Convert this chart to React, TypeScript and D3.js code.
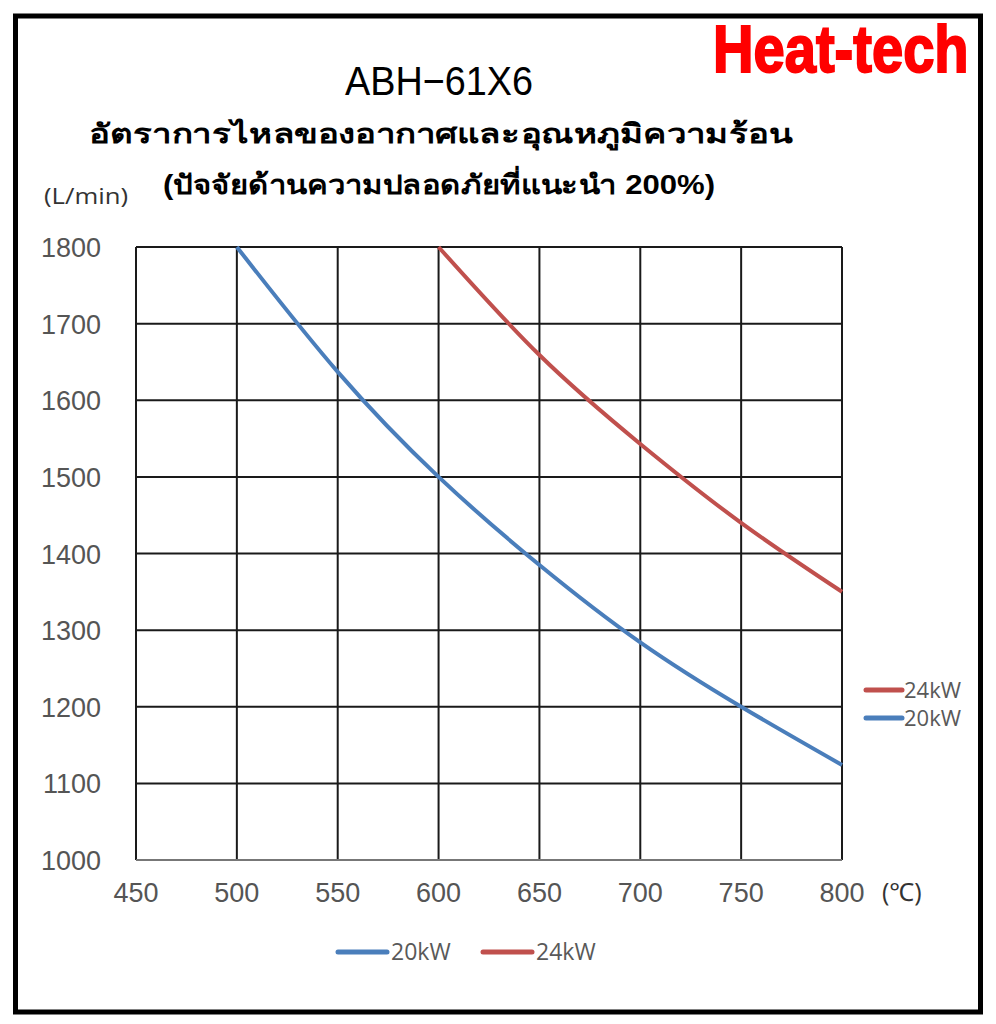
import React, { useEffect, useRef } from "react";
import * as d3 from "d3";

const width = 996;
const height = 1024;
const margin = { top: 247, right: 154, bottom: 164, left: 136 };

// x ticks (°C) and y ticks (L/min)
const xTicks = [450, 500, 550, 600, 650, 700, 750, 800];
const yTicks = [1000, 1100, 1200, 1300, 1400, 1500, 1600, 1700, 1800];

// 20kW curve
const temp20 = [500, 550, 600, 650, 700, 750, 800];
const flow20 = [1800, 1637, 1500, 1385, 1284, 1200, 1124];

// 24kW curve
const temp24 = [600, 650, 700, 750, 800];
const flow24 = [1800, 1659, 1543, 1440, 1350];

const series = [
    { name: "20kW", color: "#4a7ebb", temps: temp20, flows: flow20 },
    { name: "24kW", color: "#c0504d", temps: temp24, flows: flow24 },
];

const tickFont = "'Liberation Sans', Arial, sans-serif";
const legendFont = "'Open Sans', 'Noto Sans', sans-serif";

export default function App() {
    const ref = useRef<SVGSVGElement>(null);

    useEffect(() => {
        const svg = d3.select(ref.current);
        svg.selectAll("*").remove();

        const x = d3.scaleLinear()
            .domain([450, 800])
            .range([margin.left, width - margin.right]);
        const y = d3.scaleLinear()
            .domain([1000, 1800])
            .range([height - margin.bottom, margin.top]);

        svg.append("rect")
            .attr("width", width).attr("height", height)
            .attr("fill", "#fff");

        // outer frame
        svg.append("rect")
            .attr("x", 15.5).attr("y", 16)
            .attr("width", 965).attr("height", 996)
            .attr("fill", "none")
            .attr("stroke", "#000")
            .attr("stroke-width", 5);

        // grid
        const grid = svg.append("g").attr("stroke", "#1a1a1a").attr("stroke-width", 2);
        grid.selectAll(".vx").data(xTicks.slice(1)).enter()
            .append("line")
            .attr("x1", d => x(d)).attr("x2", d => x(d))
            .attr("y1", y(1800)).attr("y2", y(1000));
        grid.selectAll(".hy").data(yTicks.slice(1)).enter()
            .append("line")
            .attr("x1", x(450)).attr("x2", x(800))
            .attr("y1", d => y(d)).attr("y2", d => y(d));
        grid.append("line")
            .attr("x1", x(450)).attr("x2", x(450))
            .attr("y1", y(1800)).attr("y2", y(1000));
        grid.append("line")
            .attr("x1", x(450)).attr("x2", x(800))
            .attr("y1", y(1000)).attr("y2", y(1000))
            .attr("stroke", "#777");

        // tick labels
        svg.append("g").selectAll("text").data(yTicks).enter()
            .append("text")
            .attr("x", 101)
            .attr("y", d => y(d) + 10)
            .attr("text-anchor", "end")
            .attr("font-family", tickFont)
            .attr("font-size", 27)
            .attr("fill", "#555")
            .text(d => d);

        svg.append("g").selectAll("text").data(xTicks).enter()
            .append("text")
            .attr("x", d => x(d))
            .attr("y", 902)
            .attr("text-anchor", "middle")
            .attr("font-family", tickFont)
            .attr("font-size", 27)
            .attr("fill", "#555")
            .text(d => d);

        svg.append("text")
            .attr("x", 882).attr("y", 901)
            .attr("font-family", legendFont)
            .attr("font-size", 25)
            .attr("fill", "#333")
            .text("(℃)");

        svg.append("text")
            .attr("x", 86).attr("y", 204)
            .attr("text-anchor", "middle")
            .attr("font-family", legendFont)
            .attr("font-size", 21)
            .attr("fill", "#333")
            .attr("textLength", 84)
            .attr("lengthAdjust", "spacingAndGlyphs")
            .text("(L/min)");

        // curves
        const line = d3.line<[number, number]>()
            .x(d => x(d[0]))
            .y(d => y(d[1]))
            .curve(d3.curveNatural);

        svg.append("g").selectAll("path").data(series).enter()
            .append("path")
            .attr("fill", "none")
            .attr("stroke", d => d.color)
            .attr("stroke-width", 4)
            .attr("d", d => line(d.temps.map((t, i) => [t, d.flows[i]] as [number, number])));

        // right legend (24kW on top)
        const rightLeg = svg.append("g").selectAll("g")
            .data([series[1], series[0]]).enter()
            .append("g")
            .attr("transform", (d, i) => `translate(866,${690 + i * 28})`);
        rightLeg.append("line")
            .attr("x1", 0).attr("x2", 36)
            .attr("stroke", d => d.color)
            .attr("stroke-width", 5)
            .attr("stroke-linecap", "round");
        rightLeg.append("text")
            .attr("x", 38).attr("y", 8)
            .attr("font-family", legendFont)
            .attr("font-size", 22)
            .attr("fill", "#595959")
            .text(d => d.name);

        // bottom legend
        const botLeg = svg.append("g").selectAll("g")
            .data(series).enter()
            .append("g")
            .attr("transform", (d, i) => `translate(${338 + i * 145},952)`);
        botLeg.append("line")
            .attr("x1", 0).attr("x2", 49)
            .attr("stroke", d => d.color)
            .attr("stroke-width", 5)
            .attr("stroke-linecap", "round");
        botLeg.append("text")
            .attr("x", 53).attr("y", 8)
            .attr("font-family", legendFont)
            .attr("font-size", 23)
            .attr("fill", "#595959")
            .text(d => d.name);

        // titles
        svg.append("text")
            .attr("transform", "translate(713,72) scale(0.85,1)")
            .attr("font-family", "'Liberation Sans', sans-serif")
            .attr("font-weight", "bold")
            .attr("font-size", 66)
            .attr("fill", "#ff0000")
            .attr("stroke", "#ff0000")
            .attr("stroke-width", 2)
            .text("Heat-tech");

        svg.append("text")
            .attr("x", 345).attr("y", 95)
            .attr("font-family", tickFont)
            .attr("font-size", 41)
            .attr("fill", "#000")
            .attr("textLength", 188)
            .attr("lengthAdjust", "spacingAndGlyphs")
            .text("ABH−61X6");

        svg.append("text")
            .attr("x", 89).attr("y", 143)
            .attr("font-family", "sans-serif")
            .attr("font-weight", "bold")
            .attr("font-size", 27)
            .attr("fill", "#000")
            .attr("textLength", 703)
            .attr("lengthAdjust", "spacingAndGlyphs")
            .text("อัตราการไหลของอากาศและอุณหภูมิความร้อน");

        svg.append("text")
            .attr("x", 163).attr("y", 194)
            .attr("font-family", "sans-serif")
            .attr("font-weight", "bold")
            .attr("font-size", 27)
            .attr("fill", "#000")
            .attr("textLength", 552)
            .attr("lengthAdjust", "spacingAndGlyphs")
            .text("(ปัจจัยด้านความปลอดภัยที่แนะนำ 200%)");
    }, []);

    return (
        <svg
            ref={ref}
            width={width}
            height={height}
            style={{ position: "absolute", left: 0, top: 0 }}
        />
    );
}
